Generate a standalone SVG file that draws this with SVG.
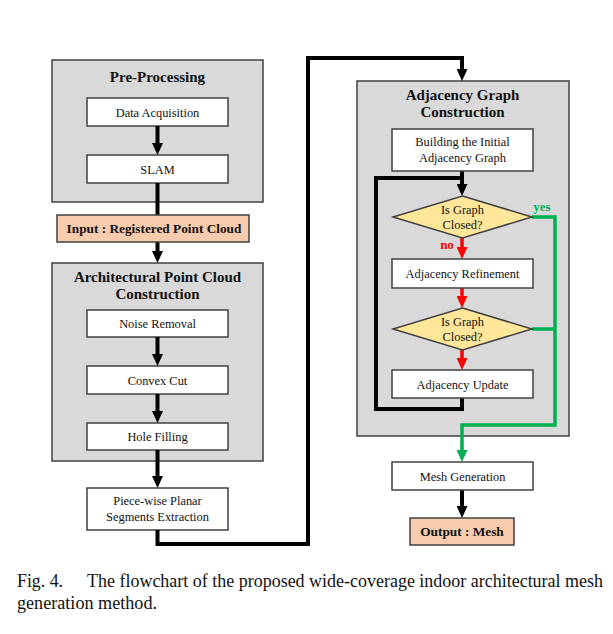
<svg xmlns="http://www.w3.org/2000/svg" width="613" height="634" viewBox="0 0 613 634">
<defs>
<style>
.grp{fill:#D9D9D9;stroke:#404040;stroke-width:1.5}
.box{fill:#FFFFFF;stroke:#404040;stroke-width:1.5}
.io{fill:#F8CBAD;stroke:#404040;stroke-width:1.5}
.dia{fill:#FFE699;stroke:#404040;stroke-width:1.5}
.t{font-family:"Liberation Serif","Times New Roman",serif;font-size:12.4px;fill:#111;text-anchor:middle}
.h{font-family:"Liberation Serif","Times New Roman",serif;font-size:15px;font-weight:bold;fill:#111;text-anchor:middle}
.b{font-family:"Liberation Serif","Times New Roman",serif;font-size:13.3px;font-weight:bold;fill:#111;text-anchor:middle}
.cap{font-family:"Liberation Serif","Times New Roman",serif;font-size:18px;fill:#111}
.k{fill:none;stroke:#000;stroke-width:4}
.r{fill:none;stroke:#FF0000;stroke-width:3.5}
.g{fill:none;stroke:#00B050;stroke-width:3.5}
</style>
<marker id="ak" viewBox="0 0 12 11" refX="2" refY="5.5" markerWidth="12" markerHeight="11" orient="auto" markerUnits="userSpaceOnUse"><path d="M0,0 L12,5.5 L0,11 Z" fill="#000"/></marker>
<marker id="ar" viewBox="0 0 12 11" refX="2" refY="5.5" markerWidth="12" markerHeight="11" orient="auto" markerUnits="userSpaceOnUse"><path d="M0,0 L12,5.5 L0,11 Z" fill="#FF0000"/></marker>
<marker id="ag" viewBox="0 0 12 11" refX="2" refY="5.5" markerWidth="12" markerHeight="11" orient="auto" markerUnits="userSpaceOnUse"><path d="M0,0 L12,5.5 L0,11 Z" fill="#00B050"/></marker>
</defs>
<rect width="613" height="634" fill="#FFFFFF"/>

<g id="pre-processing">
<rect class="grp" x="52" y="60" width="211" height="142"/>
<text class="h" x="157.5" y="82">Pre-Processing</text>
</g>
<g id="data-acquisition">
<rect class="box" x="87" y="98" width="141" height="28"/>
<text class="t" x="157.5" y="116.5">Data Acquisition</text>
</g>
<g id="slam">
<rect class="box" x="87" y="155" width="141" height="28"/>
<text class="t" x="157.5" y="173.5">SLAM</text>
</g>
<g id="arch-group">
<rect class="grp" x="52" y="263" width="211" height="198"/>
<text class="h" x="157.5" y="282">Architectural Point Cloud</text>
<text class="h" x="157.5" y="299">Construction</text>
</g>
<g id="noise-removal">
<rect class="box" x="87" y="310" width="141" height="27"/>
<text class="t" x="157.5" y="328">Noise Removal</text>
</g>
<g id="convex-cut">
<rect class="box" x="87" y="366" width="141" height="28"/>
<text class="t" x="157.5" y="384.5">Convex Cut</text>
</g>
<g id="hole-filling">
<rect class="box" x="87" y="423" width="141" height="27"/>
<text class="t" x="157.5" y="441">Hole Filling</text>
</g>
<g id="piecewise">
<rect class="box" x="87" y="488" width="141" height="42"/>
<text class="t" x="157.5" y="505">Piece-wise Planar</text>
<text class="t" x="157.5" y="521">Segments Extraction</text>
</g>
<g id="adj-group">
<rect class="grp" x="357" y="81" width="212" height="355"/>
<text class="h" x="462.5" y="100">Adjacency Graph</text>
<text class="h" x="462.5" y="117">Construction</text>
</g>

<g id="connectors">
<line class="k" x1="157.5" y1="126" x2="157.5" y2="145" marker-end="url(#ak)"/>
<line class="k" x1="157.5" y1="183" x2="157.5" y2="215"/>
<line class="k" x1="157.5" y1="242" x2="157.5" y2="253" marker-end="url(#ak)"/>
<line class="k" x1="157.5" y1="337" x2="157.5" y2="356" marker-end="url(#ak)"/>
<line class="k" x1="157.5" y1="394" x2="157.5" y2="413" marker-end="url(#ak)"/>
<line class="k" x1="157.5" y1="450" x2="157.5" y2="478" marker-end="url(#ak)"/>
<polyline class="k" points="157.5,530 157.5,544 308,544 308,58 462,58 462,71" marker-end="url(#ak)"/>
<line class="k" x1="462" y1="171" x2="462" y2="186" marker-end="url(#ak)"/>
<polyline class="k" points="462,398 462,409 376,409 376,178 462,178"/>
<line class="r" x1="462" y1="238" x2="462" y2="249" marker-end="url(#ar)"/>
<line class="r" x1="462" y1="288" x2="462" y2="298" marker-end="url(#ar)"/>
<line class="r" x1="462" y1="350" x2="462" y2="360" marker-end="url(#ar)"/>
<polyline class="g" points="532,217 555,217 555,425 462,425 462,452" marker-end="url(#ag)"/>
<line class="g" x1="532" y1="329" x2="555" y2="329"/>
<line class="k" x1="462" y1="490" x2="462" y2="508" marker-end="url(#ak)"/>
<text x="447" y="249" style="font-family:'Liberation Serif',serif;font-size:13px;font-weight:bold;fill:#FF0000;text-anchor:middle">no</text>
<text x="542" y="211" style="font-family:'Liberation Serif',serif;font-size:13px;font-weight:bold;fill:#00B050;text-anchor:middle">yes</text>
</g>

<g id="input">
<rect class="io" x="57" y="215" width="192" height="27"/>
<text class="b" x="154" y="233">Input : Registered Point Cloud</text>
</g>
<g id="building">
<rect class="box" x="392" y="129" width="141" height="42"/>
<text class="t" x="462.5" y="146">Building the Initial</text>
<text class="t" x="462.5" y="162">Adjacency Graph</text>
</g>
<g id="closed1">
<polygon class="dia" points="462.5,196 532,217 462.5,238 393,217"/>
<text class="t" x="462.5" y="214">Is Graph</text>
<text class="t" x="462.5" y="229">Closed?</text>
</g>
<g id="refinement">
<rect class="box" x="392" y="259" width="141" height="29"/>
<text class="t" x="462.5" y="278">Adjacency Refinement</text>
</g>
<g id="closed2">
<polygon class="dia" points="462.5,308 532,329 462.5,350 393,329"/>
<text class="t" x="462.5" y="326">Is Graph</text>
<text class="t" x="462.5" y="341">Closed?</text>
</g>
<g id="update">
<rect class="box" x="392" y="370" width="141" height="28"/>
<text class="t" x="462.5" y="388.5">Adjacency Update</text>
</g>
<g id="mesh-generation">
<rect class="box" x="392" y="462" width="141" height="28"/>
<text class="t" x="462.5" y="480.5">Mesh Generation</text>
</g>
<g id="output">
<rect class="io" x="410" y="518" width="104" height="27"/>
<text class="b" x="462" y="536">Output : Mesh</text>
</g>

<g id="caption">
<text class="cap" x="17" y="587" textLength="46" lengthAdjust="spacingAndGlyphs">Fig. 4.</text>
<text class="cap" x="87" y="587" textLength="516" lengthAdjust="spacingAndGlyphs">The flowchart of the proposed wide-coverage indoor architectural mesh</text>
<text class="cap" x="17" y="609" textLength="140" lengthAdjust="spacingAndGlyphs">generation method.</text>
</g>
</svg>
